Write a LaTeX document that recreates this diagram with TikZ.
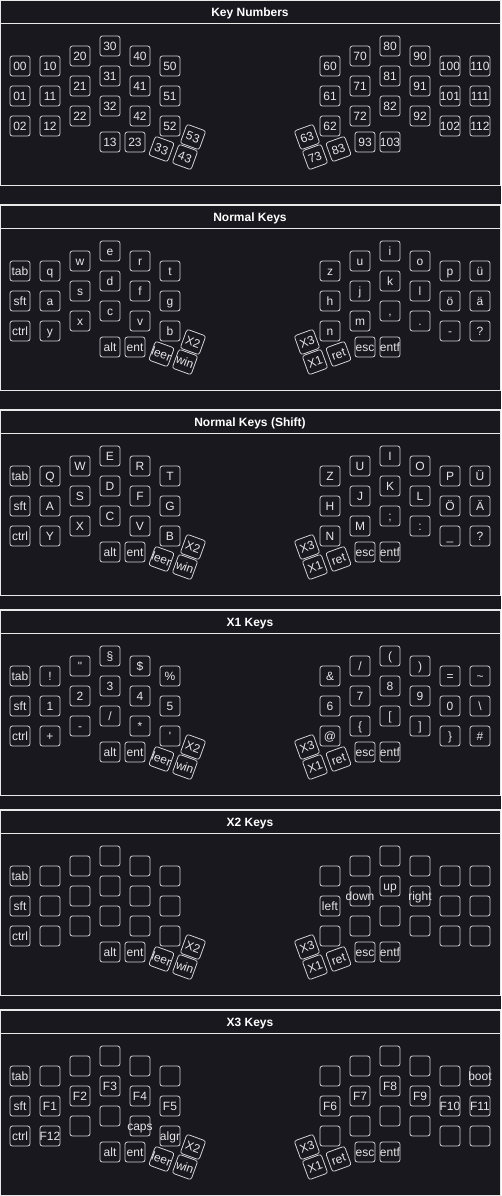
\documentclass[tikz,border=0pt]{standalone}
\usepackage{fontspec}
\setmainfont{Liberation Sans}
\usepackage{tikz}
\usepackage{xcolor}

\definecolor{panelbg}{HTML}{19181F}
\definecolor{keyline}{HTML}{D2D2D2}
\definecolor{keytext}{HTML}{E6E6E6}
\definecolor{frameline}{HTML}{E8E8E8}

\begin{document}
\begin{tikzpicture}[x=0.75pt,y=-0.75pt,line cap=round,
  key/.style={draw=keyline,line width=0.6pt,rounded corners=1.8pt,minimum size=15pt,inner sep=0pt,
    text=keytext,font=\fontsize{9}{10}\selectfont,text height=6.5pt,text depth=0pt,
    execute at begin node={\hbox to 0pt\bgroup\hss},execute at end node={\hss\egroup}},
  thumbl/.style={key,rotate=-20},
  thumbr/.style={key,rotate=20},
  frame/.style={draw=frameline,line width=0.8pt},
  title/.style={text=white,font=\bfseries\fontsize{9}{10}\selectfont,text height=6.5pt,text depth=0pt,inner sep=0pt}]
\useasboundingbox (0,0) rectangle (501,1196);
\fill[panelbg] (0,0) rectangle (501,1196);

% Key Numbers
\begin{scope}
\draw[frame] (0.5,0.6) rectangle (500.5,185.5);
\draw[frame] (0.5,23.4) -- (500.5,23.4);
\node[title] (nt) at (250,11.8) {Key Numbers};
\node[key] (n00) at (20,66) {00}; \node[key] (n01) at (20,96) {01}; \node[key] (n02) at (20,126) {02};
\node[key] (n10) at (50,66) {10}; \node[key] (n11) at (50,96) {11}; \node[key] (n12) at (50,126) {12};
\node[key] (n20) at (80,56) {20}; \node[key] (n21) at (80,86) {21}; \node[key] (n22) at (80,116) {22};
\node[key] (n30) at (110,46) {30}; \node[key] (n31) at (110,76) {31}; \node[key] (n32) at (110,106) {32};
\node[key] (n40) at (140,56) {40}; \node[key] (n41) at (140,86) {41}; \node[key] (n42) at (140,116) {42};
\node[key] (n50) at (170,66) {50}; \node[key] (n51) at (170,96) {51}; \node[key] (n52) at (170,126) {52};
\node[key] (n13) at (110,142) {13}; \node[key] (n23) at (135,142) {23};
\node[thumbl] (n33) at (161.5,149) {33}; \node[thumbl] (n43) at (185,157) {43}; \node[thumbl] (n53) at (193,137) {53};
\node[key] (n60) at (330,66) {60}; \node[key] (n61) at (330,96) {61}; \node[key] (n62) at (330,126) {62};
\node[key] (n70) at (360,56) {70}; \node[key] (n71) at (360,86) {71}; \node[key] (n72) at (360,116) {72};
\node[key] (n80) at (390,46) {80}; \node[key] (n81) at (390,76) {81}; \node[key] (n82) at (390,106) {82};
\node[key] (n90) at (420,56) {90}; \node[key] (n91) at (420,86) {91}; \node[key] (n92) at (420,116) {92};
\node[key] (n100) at (450,66) {100}; \node[key] (n101) at (450,96) {101}; \node[key] (n102) at (450,126) {102};
\node[key] (n110) at (480,66) {110}; \node[key] (n111) at (480,96) {111}; \node[key] (n112) at (480,126) {112};
\node[key] (n93) at (365,142) {93}; \node[key] (n103) at (390,142) {103};
\node[thumbr] (n63) at (307,137) {63}; \node[thumbr] (n73) at (315,157) {73}; \node[thumbr] (n83) at (338.5,149) {83};
\end{scope}

% Normal Keys
\begin{scope}[shift={(0,205)}]
\draw[frame] (0.5,0) rectangle (500.5,185.5);
\draw[frame] (0.5,23.4) -- (500.5,23.4);
\node[title] (kt) at (250,11.8) {Normal Keys};
\node[key] (k00) at (20,66) {tab}; \node[key] (k01) at (20,96) {sft}; \node[key] (k02) at (20,126) {ctrl};
\node[key] (k10) at (50,66) {q}; \node[key] (k11) at (50,96) {a}; \node[key] (k12) at (50,126) {y};
\node[key] (k20) at (80,56) {w}; \node[key] (k21) at (80,86) {s}; \node[key] (k22) at (80,116) {x};
\node[key] (k30) at (110,46) {e}; \node[key] (k31) at (110,76) {d}; \node[key] (k32) at (110,106) {c};
\node[key] (k40) at (140,56) {r}; \node[key] (k41) at (140,86) {f}; \node[key] (k42) at (140,116) {v};
\node[key] (k50) at (170,66) {t}; \node[key] (k51) at (170,96) {g}; \node[key] (k52) at (170,126) {b};
\node[key] (k13) at (110,142) {alt}; \node[key] (k23) at (135,142) {ent};
\node[thumbl] (k33) at (161.5,149) {leer}; \node[thumbl] (k43) at (185,157) {win}; \node[thumbl] (k53) at (193,137) {X2};
\node[key] (k60) at (330,66) {z}; \node[key] (k61) at (330,96) {h}; \node[key] (k62) at (330,126) {n};
\node[key] (k70) at (360,56) {u}; \node[key] (k71) at (360,86) {j}; \node[key] (k72) at (360,116) {m};
\node[key] (k80) at (390,46) {i}; \node[key] (k81) at (390,76) {k}; \node[key] (k82) at (390,106) {,};
\node[key] (k90) at (420,56) {o}; \node[key] (k91) at (420,86) {l}; \node[key] (k92) at (420,116) {.};
\node[key] (k100) at (450,66) {p}; \node[key] (k101) at (450,96) {ö}; \node[key] (k102) at (450,126) {-};
\node[key] (k110) at (480,66) {ü}; \node[key] (k111) at (480,96) {ä}; \node[key] (k112) at (480,126) {?};
\node[key] (k93) at (365,142) {esc}; \node[key] (k103) at (390,142) {entf};
\node[thumbr] (k63) at (307,137) {X3}; \node[thumbr] (k73) at (315,157) {X1}; \node[thumbr] (k83) at (338.5,149) {ret};
\end{scope}

% Normal Keys (Shift)
\begin{scope}[shift={(0,410)}]
\draw[frame] (0.5,0) rectangle (500.5,185.5);
\draw[frame] (0.5,23.4) -- (500.5,23.4);
\node[title] (st) at (250,11.8) {Normal Keys (Shift)};
\node[key] (s00) at (20,66) {tab}; \node[key] (s01) at (20,96) {sft}; \node[key] (s02) at (20,126) {ctrl};
\node[key] (s10) at (50,66) {Q}; \node[key] (s11) at (50,96) {A}; \node[key] (s12) at (50,126) {Y};
\node[key] (s20) at (80,56) {W}; \node[key] (s21) at (80,86) {S}; \node[key] (s22) at (80,116) {X};
\node[key] (s30) at (110,46) {E}; \node[key] (s31) at (110,76) {D}; \node[key] (s32) at (110,106) {C};
\node[key] (s40) at (140,56) {R}; \node[key] (s41) at (140,86) {F}; \node[key] (s42) at (140,116) {V};
\node[key] (s50) at (170,66) {T}; \node[key] (s51) at (170,96) {G}; \node[key] (s52) at (170,126) {B};
\node[key] (s13) at (110,142) {alt}; \node[key] (s23) at (135,142) {ent};
\node[thumbl] (s33) at (161.5,149) {leer}; \node[thumbl] (s43) at (185,157) {win}; \node[thumbl] (s53) at (193,137) {X2};
\node[key] (s60) at (330,66) {Z}; \node[key] (s61) at (330,96) {H}; \node[key] (s62) at (330,126) {N};
\node[key] (s70) at (360,56) {U}; \node[key] (s71) at (360,86) {J}; \node[key] (s72) at (360,116) {M};
\node[key] (s80) at (390,46) {I}; \node[key] (s81) at (390,76) {K}; \node[key] (s82) at (390,106) {;};
\node[key] (s90) at (420,56) {O}; \node[key] (s91) at (420,86) {L}; \node[key] (s92) at (420,116) {:};
\node[key] (s100) at (450,66) {P}; \node[key] (s101) at (450,96) {Ö}; \node[key] (s102) at (450,126) {\_};
\node[key] (s110) at (480,66) {Ü}; \node[key] (s111) at (480,96) {Ä}; \node[key] (s112) at (480,126) {?};
\node[key] (s93) at (365,142) {esc}; \node[key] (s103) at (390,142) {entf};
\node[thumbr] (s63) at (307,137) {X3}; \node[thumbr] (s73) at (315,157) {X1}; \node[thumbr] (s83) at (338.5,149) {ret};
\end{scope}

% X1 Keys
\begin{scope}[shift={(0,610)}]
\draw[frame] (0.5,0) rectangle (500.5,185.5);
\draw[frame] (0.5,23.4) -- (500.5,23.4);
\node[title] (at) at (250,11.8) {X1 Keys};
\node[key] (a00) at (20,66) {tab}; \node[key] (a01) at (20,96) {sft}; \node[key] (a02) at (20,126) {ctrl};
\node[key] (a10) at (50,66) {!}; \node[key] (a11) at (50,96) {1}; \node[key] (a12) at (50,126) {+};
\node[key] (a20) at (80,56) {\textquotedbl}; \node[key] (a21) at (80,86) {2}; \node[key] (a22) at (80,116) {-};
\node[key] (a30) at (110,46) {§}; \node[key] (a31) at (110,76) {3}; \node[key] (a32) at (110,106) {/};
\node[key] (a40) at (140,56) {\$}; \node[key] (a41) at (140,86) {4}; \node[key] (a42) at (140,116) {*};
\node[key] (a50) at (170,66) {\%}; \node[key] (a51) at (170,96) {5}; \node[key] (a52) at (170,126) {\textquotesingle};
\node[key] (a13) at (110,142) {alt}; \node[key] (a23) at (135,142) {ent};
\node[thumbl] (a33) at (161.5,149) {leer}; \node[thumbl] (a43) at (185,157) {win}; \node[thumbl] (a53) at (193,137) {X2};
\node[key] (a60) at (330,66) {\&}; \node[key] (a61) at (330,96) {6}; \node[key] (a62) at (330,126) {@};
\node[key] (a70) at (360,56) {/}; \node[key] (a71) at (360,86) {7}; \node[key] (a72) at (360,116) {\{};
\node[key] (a80) at (390,46) {(}; \node[key] (a81) at (390,76) {8}; \node[key] (a82) at (390,106) {[};
\node[key] (a90) at (420,56) {)}; \node[key] (a91) at (420,86) {9}; \node[key] (a92) at (420,116) {]};
\node[key] (a100) at (450,66) {=}; \node[key] (a101) at (450,96) {0}; \node[key] (a102) at (450,126) {\}};
\node[key] (a110) at (480,66) {\textasciitilde}; \node[key] (a111) at (480,96) {\textbackslash}; \node[key] (a112) at (480,126) {\#};
\node[key] (a93) at (365,142) {esc}; \node[key] (a103) at (390,142) {entf};
\node[thumbr] (a63) at (307,137) {X3}; \node[thumbr] (a73) at (315,157) {X1}; \node[thumbr] (a83) at (338.5,149) {ret};
\end{scope}

% X2 Keys
\begin{scope}[shift={(0,810)}]
\draw[frame] (0.5,0) rectangle (500.5,185.5);
\draw[frame] (0.5,23.4) -- (500.5,23.4);
\node[title] (bt) at (250,11.8) {X2 Keys};
\node[key] (b00) at (20,66) {tab}; \node[key] (b01) at (20,96) {sft}; \node[key] (b02) at (20,126) {ctrl};
\node[key] (b10) at (50,66) {}; \node[key] (b11) at (50,96) {}; \node[key] (b12) at (50,126) {};
\node[key] (b20) at (80,56) {}; \node[key] (b21) at (80,86) {}; \node[key] (b22) at (80,116) {};
\node[key] (b30) at (110,46) {}; \node[key] (b31) at (110,76) {}; \node[key] (b32) at (110,106) {};
\node[key] (b40) at (140,56) {}; \node[key] (b41) at (140,86) {}; \node[key] (b42) at (140,116) {};
\node[key] (b50) at (170,66) {}; \node[key] (b51) at (170,96) {}; \node[key] (b52) at (170,126) {};
\node[key] (b13) at (110,142) {alt}; \node[key] (b23) at (135,142) {ent};
\node[thumbl] (b33) at (161.5,149) {leer}; \node[thumbl] (b43) at (185,157) {win}; \node[thumbl] (b53) at (193,137) {X2};
\node[key] (b60) at (330,66) {}; \node[key] (b61) at (330,96) {left}; \node[key] (b62) at (330,126) {};
\node[key] (b70) at (360,56) {}; \node[key] (b71) at (360,86) {down}; \node[key] (b72) at (360,116) {};
\node[key] (b80) at (390,46) {}; \node[key] (b81) at (390,76) {up}; \node[key] (b82) at (390,106) {};
\node[key] (b90) at (420,56) {}; \node[key] (b91) at (420,86) {right}; \node[key] (b92) at (420,116) {};
\node[key] (b100) at (450,66) {}; \node[key] (b101) at (450,96) {}; \node[key] (b102) at (450,126) {};
\node[key] (b110) at (480,66) {}; \node[key] (b111) at (480,96) {}; \node[key] (b112) at (480,126) {};
\node[key] (b93) at (365,142) {esc}; \node[key] (b103) at (390,142) {entf};
\node[thumbr] (b63) at (307,137) {X3}; \node[thumbr] (b73) at (315,157) {X1}; \node[thumbr] (b83) at (338.5,149) {ret};
\end{scope}

% X3 Keys
\begin{scope}[shift={(0,1010)}]
\draw[frame] (0.5,0) rectangle (500.5,185.4);
\draw[frame] (0.5,23.4) -- (500.5,23.4);
\node[title] (ct) at (250,11.8) {X3 Keys};
\node[key] (c00) at (20,66) {tab}; \node[key] (c01) at (20,96) {sft}; \node[key] (c02) at (20,126) {ctrl};
\node[key] (c10) at (50,66) {}; \node[key] (c11) at (50,96) {F1}; \node[key] (c12) at (50,126) {F12};
\node[key] (c20) at (80,56) {}; \node[key] (c21) at (80,86) {F2}; \node[key] (c22) at (80,116) {};
\node[key] (c30) at (110,46) {}; \node[key] (c31) at (110,76) {F3}; \node[key] (c32) at (110,106) {};
\node[key] (c40) at (140,56) {}; \node[key] (c41) at (140,86) {F4}; \node[key] (c42) at (140,116) {caps};
\node[key] (c50) at (170,66) {}; \node[key] (c51) at (170,96) {F5}; \node[key] (c52) at (170,126) {algr};
\node[key] (c13) at (110,142) {alt}; \node[key] (c23) at (135,142) {ent};
\node[thumbl] (c33) at (161.5,149) {leer}; \node[thumbl] (c43) at (185,157) {win}; \node[thumbl] (c53) at (193,137) {X2};
\node[key] (c60) at (330,66) {}; \node[key] (c61) at (330,96) {F6}; \node[key] (c62) at (330,126) {};
\node[key] (c70) at (360,56) {}; \node[key] (c71) at (360,86) {F7}; \node[key] (c72) at (360,116) {};
\node[key] (c80) at (390,46) {}; \node[key] (c81) at (390,76) {F8}; \node[key] (c82) at (390,106) {};
\node[key] (c90) at (420,56) {}; \node[key] (c91) at (420,86) {F9}; \node[key] (c92) at (420,116) {};
\node[key] (c100) at (450,66) {}; \node[key] (c101) at (450,96) {F10}; \node[key] (c102) at (450,126) {};
\node[key] (c110) at (480,66) {boot}; \node[key] (c111) at (480,96) {F11}; \node[key] (c112) at (480,126) {};
\node[key] (c93) at (365,142) {esc}; \node[key] (c103) at (390,142) {entf};
\node[thumbr] (c63) at (307,137) {X3}; \node[thumbr] (c73) at (315,157) {X1}; \node[thumbr] (c83) at (338.5,149) {ret};
\end{scope}
\end{tikzpicture}
\end{document}
